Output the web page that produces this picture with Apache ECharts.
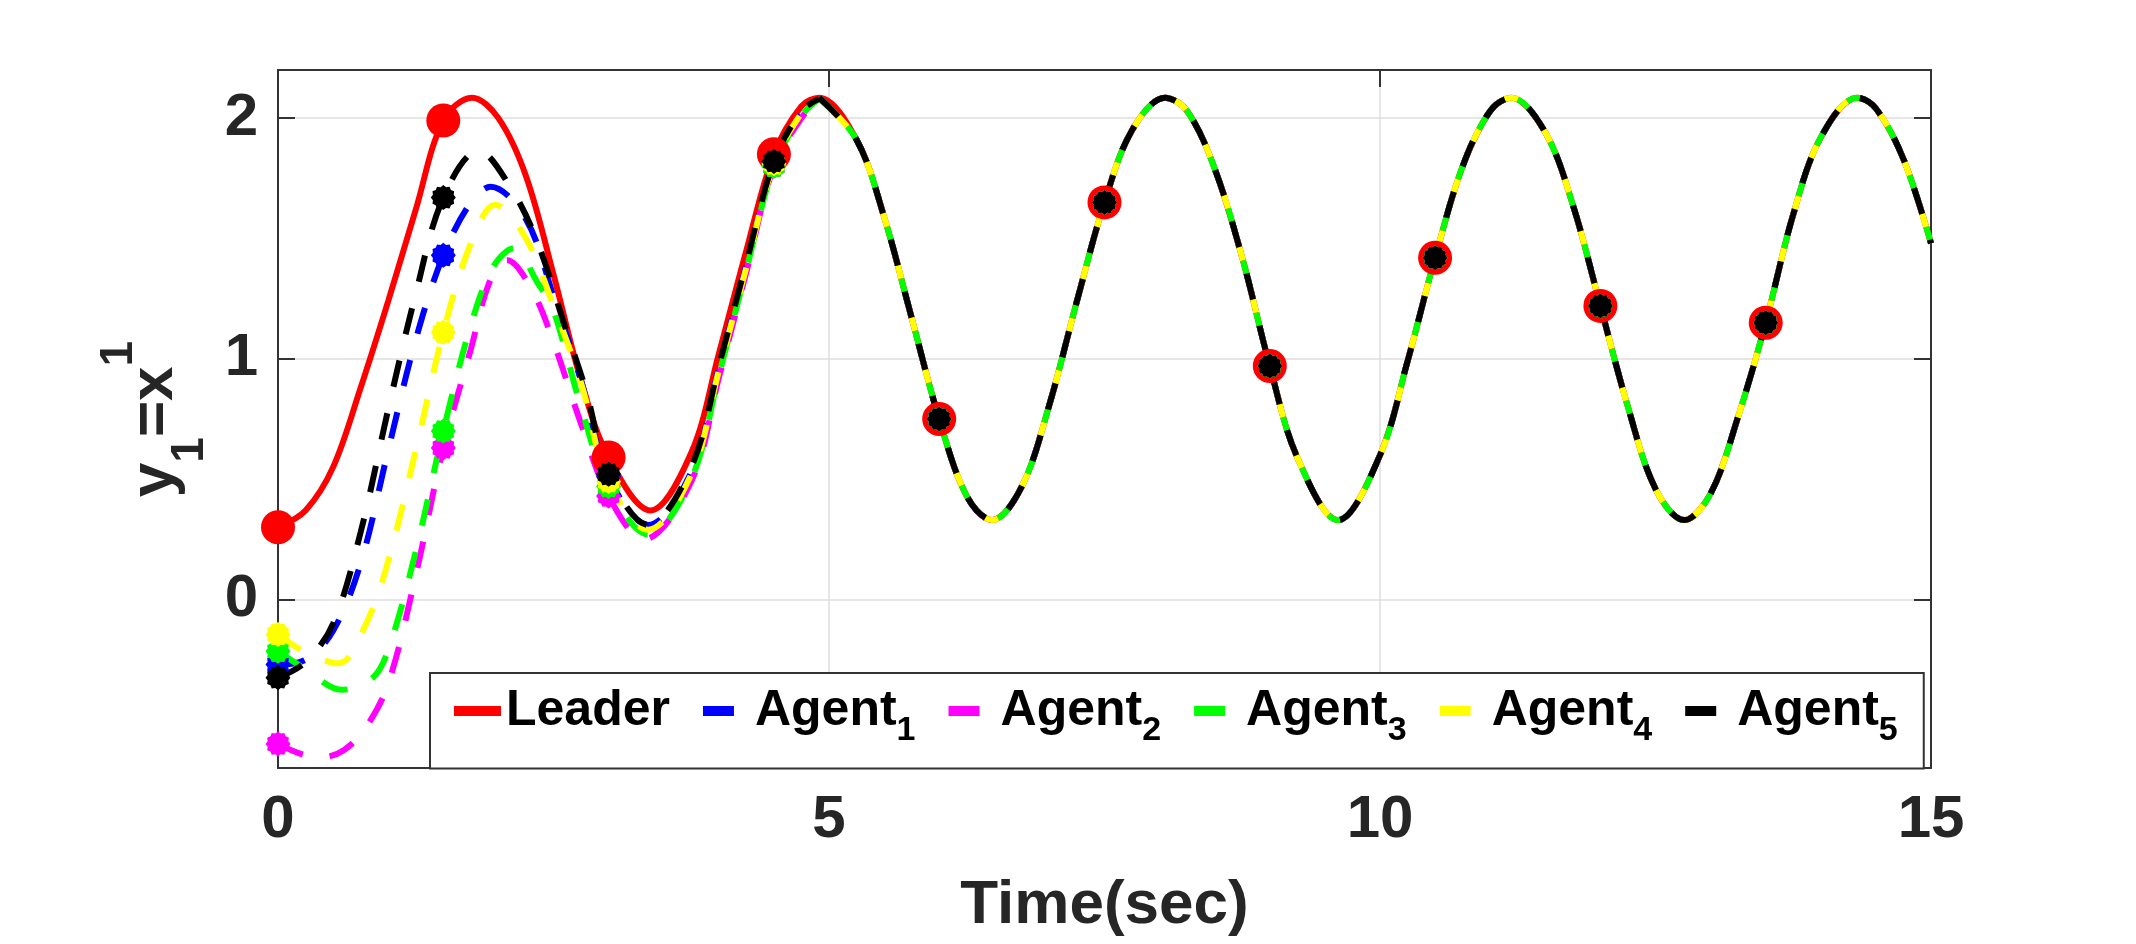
<!DOCTYPE html>
<html>
<head>
<meta charset="utf-8">
<title>y1 = x1 : leader and agents</title>
<script src="https://cdn.jsdelivr.net/npm/echarts@6/dist/echarts.min.js"></script>
<style>
    html, body { margin: 0; padding: 0; background: #fff; }
    #chartLine { width: 2136px; height: 944px; }
</style>
</head>
<body>
<div id="chartLine"></div>
<script>
// leader: sample times (sec) and output, extremes included as samples
const leaderTime = [
    0, 0.25, 0.5, 0.75, 1, 1.25, 1.5, 1.76, 2, 2.25, 2.5, 2.75, 3, 3.38, 3.75, 4, 4.25, 4.5, 4.75,
    4.91, 5.25, 5.5, 5.75, 6, 6.25, 6.48, 6.75, 7, 7.25, 7.5, 7.75, 8.05, 8.25, 8.5, 8.75, 9, 9.25, 9.62,
    10, 10.25, 10.5, 10.75, 11, 11.19, 11.5, 11.75, 12, 12.25, 12.5, 12.76, 13, 13.25, 13.5, 13.75, 14, 14.33, 14.5, 14.75, 15,
];
const leader = [
    0.30, 0.37, 0.55, 0.88, 1.24, 1.62, 1.99, 2.085, 2.00, 1.76, 1.35, 0.91, 0.59, 0.37, 0.61, 1.02, 1.45, 1.85, 2.05,
    2.085, 1.91, 1.59, 1.17, 0.75, 0.43, 0.33, 0.47, 0.81, 1.24, 1.65, 1.95, 2.085, 2.03, 1.79, 1.42, 0.97, 0.59, 0.33,
    0.60, 0.99, 1.42, 1.80, 2.03, 2.085, 1.94, 1.64, 1.22, 0.80, 0.46, 0.33, 0.44, 0.76, 1.15, 1.60, 1.92, 2.085, 2.04, 1.83, 1.48,
];

// agents before they lock onto the leader (own sample times, own extremes)
const agent1Time = [0, 0.25, 0.5, 0.75, 1, 1.25, 1.5, 1.75, 1.93, 2.25, 2.5, 2.75, 3, 3.36, 3.75, 4, 4.25, 4.5, 4.75, 4.91];
const agent1Early = [-0.27, -0.25, -0.13, 0.15, 0.62, 1.08, 1.43, 1.65, 1.715, 1.58, 1.26, 0.91, 0.51, 0.31, 0.53, 0.96, 1.39, 1.81, 2.02, 2.08];

const agent2Time = [0, 0.2, 0.4, 0.6, 0.8, 1, 1.25, 1.5, 1.75, 1.92, 2.08, 2.3, 2.5, 2.75, 3, 3.32, 3.75, 4, 4.25, 4.5, 4.75, 4.91];
const agent2Early = [-0.60, -0.64, -0.655, -0.625, -0.53, -0.35, 0.10, 0.63, 1.04, 1.32, 1.41, 1.29, 1.07, 0.73, 0.43, 0.25, 0.49, 0.92, 1.36, 1.80, 2.00, 2.08];

const agent3Time = [0, 0.25, 0.58, 0.85, 1, 1.25, 1.5, 1.75, 1.95, 2.14, 2.35, 2.5, 2.75, 3, 3.36, 3.75, 4, 4.25, 4.5, 4.75, 4.91];
const agent3Early = [-0.215, -0.29, -0.375, -0.33, -0.21, 0.20, 0.70, 1.14, 1.38, 1.46, 1.32, 1.20, 0.80, 0.47, 0.27, 0.50, 0.93, 1.37, 1.80, 2.01, 2.08];

const agent4Time = [0, 0.25, 0.55, 0.8, 1, 1.25, 1.5, 1.75, 1.97, 2.25, 2.5, 2.75, 3, 3.36, 3.75, 4, 4.25, 4.5, 4.75, 4.91];
const agent4Early = [-0.145, -0.22, -0.265, -0.10, 0.16, 0.62, 1.11, 1.48, 1.64, 1.50, 1.22, 0.90, 0.49, 0.29, 0.52, 0.95, 1.38, 1.81, 2.02, 2.08];

const agent5Time = [0, 0.25, 0.5, 0.75, 1, 1.25, 1.5, 1.82, 2.1, 2.35, 2.6, 2.8, 3, 3.36, 3.75, 4, 4.25, 4.5, 4.75, 4.91];
const agent5Early = [-0.325, -0.26, -0.10, 0.28, 0.79, 1.27, 1.67, 1.865, 1.72, 1.49, 1.14, 0.86, 0.52, 0.31, 0.55, 0.97, 1.40, 1.82, 2.03, 2.08];

// sample times that carry a marker
const markerTimes = [0, 1.5, 3, 4.5, 6, 7.5, 9, 10.5, 12, 13.5];

// from this time on every agent sits on the leader curve
const LOCK_TIME = 4.91;

const seriesNames = ['Leader', 'Agent1', 'Agent2', 'Agent3', 'Agent4', 'Agent5'];
const agentTimes = [agent1Time, agent2Time, agent3Time, agent4Time, agent5Time];
const agentValues = [agent1Early, agent2Early, agent3Early, agent4Early, agent5Early];
const lineColors = ['#ff0000', '#0000ff', '#ff00ff', '#00ff00', '#ffff00', '#000000'];

const FONT = 'Liberation Sans';
const AXIS_COLOR = '#333333';
const DASH = 27;
// dash phase on the shared stretch: black dash, then yellow, then green show in its gap
const lateDashOffset = [0, 0, 0, DASH * 0.5, DASH * 1.5, 0];

// jagged round marker like the matlab export
const agentMarker = 'path://M100,50L91.5,61.1L93.3,75L80.4,80.4L75,93.3L61.1,91.5L50,100L38.9,91.5L25,93.3L19.6,80.4L6.7,75L8.5,61.1L0,50L8.5,38.9L6.7,25L19.6,19.6L25,6.7L38.9,8.5L50,0L61.1,8.5L75,6.7L80.4,19.6L93.3,25L91.5,38.9Z';
// legend dash: 31px visible out of the 47px slot
const agentLegendIcon = 'path://M0,0H31V10H0Z M47,5L47,5';

let lineChart;

function makeLine(idx, times, values, dashOffset) {
    const isLeader = idx === 0;
    const data = times.map((t, i) => {
        if (markerTimes.indexOf(t) >= 0) {
            return { value: [t, values[i]] };
        }
        return { value: [t, values[i]], symbol: 'none' };
    });
    return {
        name: seriesNames[idx],
        type: 'line',
        smooth: 0.35,
        showSymbol: true,
        symbol: isLeader ? 'circle' : agentMarker,
        symbolSize: isLeader ? 34 : 25,
        itemStyle: { color: lineColors[idx], borderWidth: 0 },
        lineStyle: {
            color: lineColors[idx],
            width: 6,
            type: isLeader ? 'solid' : [DASH, DASH],
            dashOffset: dashOffset,
        },
        emphasis: { disabled: true },
        silent: true,
        data: data,
    };
}

function buildSeries() {
    const list = [makeLine(0, leaderTime, leader, 0)];
    const lock = leaderTime.indexOf(LOCK_TIME);
    const lateTime = leaderTime.slice(lock);
    const lateValues = leader.slice(lock);
    for (let k = 1; k < seriesNames.length; k++) {
        list.push(makeLine(k, agentTimes[k - 1], agentValues[k - 1], 0));
        list.push(makeLine(k, lateTime, lateValues, lateDashOffset[k]));
    }
    return list;
}

function chartFnctn() {
    const chartDom = document.getElementById('chartLine');
    lineChart = echarts.init(chartDom);

    const tickLabel = {
        fontFamily: FONT,
        fontSize: 60,
        fontWeight: 'bold',
        color: '#262626',
    };

    const option = {
        animation: false,
        backgroundColor: '#ffffff',
        grid: { left: 278, right: 205, top: 70, bottom: 176 },
        legend: {
            left: 430,
            top: 673,
            orient: 'horizontal',
            padding: [13, 26, 21, 24],
            itemGap: 33,
            itemWidth: 47,
            itemHeight: 10,
            selectedMode: false,
            backgroundColor: '#ffffff',
            borderColor: AXIS_COLOR,
            borderWidth: 2,
            borderRadius: 0,
            itemStyle: { borderWidth: 0 },
            data: seriesNames.map((n, i) => ({ name: n, icon: i === 0 ? 'rect' : agentLegendIcon })),
            formatter: function (name) {
                if (name === 'Leader') return '{m|Leader}';
                return '{m|Agent}{s|' + name.slice(5) + '}';
            },
            textStyle: {
                fontFamily: FONT,
                fontWeight: 'bold',
                color: '#000',
                rich: {
                    m: { fontFamily: FONT, fontWeight: 'bold', fontSize: 50, lineHeight: 73, color: '#000' },
                    s: { fontFamily: FONT, fontWeight: 'bold', fontSize: 34, lineHeight: 35, verticalAlign: 'bottom', color: '#000' },
                },
            },
        },
        xAxis: [
            {
                type: 'value',
                min: 0,
                max: 15,
                interval: 5,
                position: 'bottom',
                axisLine: { show: true, onZero: false, lineStyle: { color: AXIS_COLOR, width: 2 } },
                axisTick: { show: true, inside: true, length: 17, lineStyle: { color: AXIS_COLOR, width: 2 } },
                axisLabel: Object.assign({ margin: 22 }, tickLabel),
                splitLine: { show: true, lineStyle: { color: '#dedede', width: 1.5 } },
                name: 'Time(sec)',
                nameLocation: 'middle',
                nameGap: 107,
                nameTextStyle: { fontFamily: FONT, fontSize: 62, fontWeight: 'bold', color: '#262626' },
            },
            {
                type: 'value',
                min: 0,
                max: 15,
                interval: 5,
                position: 'top',
                axisLine: { show: true, onZero: false, lineStyle: { color: AXIS_COLOR, width: 2 } },
                axisTick: { show: true, inside: true, length: 17, lineStyle: { color: AXIS_COLOR, width: 2 } },
                axisLabel: { show: false },
                splitLine: { show: false },
            },
        ],
        yAxis: [
            {
                type: 'value',
                min: -0.7,
                max: 2.2,
                splitNumber: 3,
                minInterval: 1,
                maxInterval: 1,
                position: 'left',
                axisLine: { show: true, onZero: false, lineStyle: { color: AXIS_COLOR, width: 2 } },
                axisTick: { show: true, inside: true, length: 17, lineStyle: { color: AXIS_COLOR, width: 2 } },
                axisLabel: Object.assign({
                    margin: 20,
                    showMinLabel: false,
                    showMaxLabel: false,
                    formatter: function (value) {
                        return Number.isInteger(value) ? String(value) : '';
                    },
                }, tickLabel),
                splitLine: { show: true, lineStyle: { color: '#dedede', width: 1.5 } },
                name: '{m|y}{s|1}{m|=x}{p|1}',
                nameLocation: 'middle',
                nameRotate: 90,
                nameGap: 54,
                nameTextStyle: {
                    fontFamily: FONT,
                    fontWeight: 'bold',
                    color: '#262626',
                    rich: {
                        m: { fontFamily: FONT, fontWeight: 'bold', fontSize: 62, lineHeight: 117, color: '#262626' },
                        s: { fontFamily: FONT, fontWeight: 'bold', fontSize: 46, lineHeight: 46, verticalAlign: 'bottom', color: '#262626' },
                        p: { fontFamily: FONT, fontWeight: 'bold', fontSize: 46, lineHeight: 64, verticalAlign: 'top', color: '#262626' },
                    },
                },
            },
            {
                type: 'value',
                min: -0.7,
                max: 2.2,
                splitNumber: 3,
                minInterval: 1,
                maxInterval: 1,
                position: 'right',
                axisLine: { show: true, onZero: false, lineStyle: { color: AXIS_COLOR, width: 2 } },
                axisTick: { show: true, inside: true, length: 17, lineStyle: { color: AXIS_COLOR, width: 2 } },
                axisLabel: { show: false },
                splitLine: { show: false },
            },
        ],
        series: buildSeries(),
    };

    option && lineChart.setOption(option);
}

chartFnctn();
</script>
</body>
</html>
